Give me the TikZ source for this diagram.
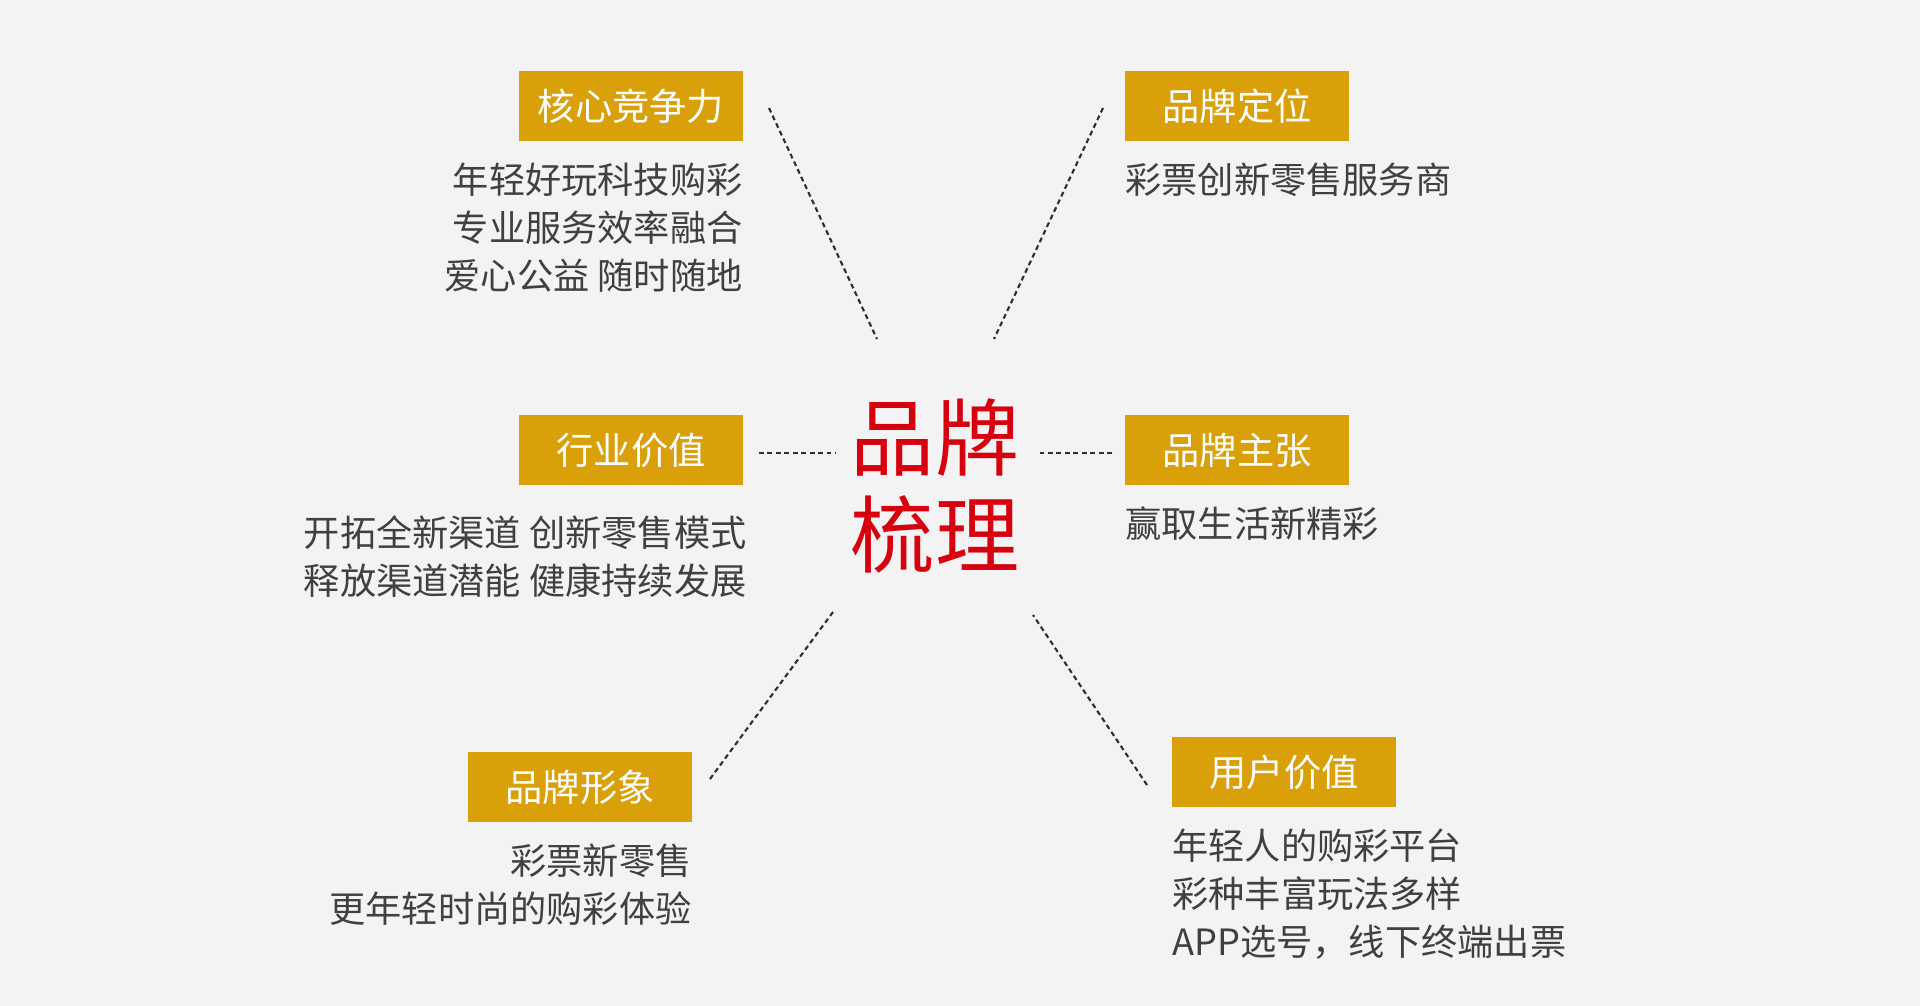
\documentclass[tikz,border=0pt]{standalone}
\usepackage{fontspec}
\setmainfont{Noto Sans CJK SC}
\usepackage{xcolor}
\usetikzlibrary{positioning}
\definecolor{bdbg}{HTML}{F3F3F3}
\definecolor{bdgold}{HTML}{D9A00A}
\definecolor{bdred}{HTML}{D7000F}
\definecolor{bdtext}{HTML}{404040}
\definecolor{bdline}{HTML}{2E2E2E}

\begin{document}
\begin{tikzpicture}[
  x=0.01cm, y=-0.01cm,
  tag/.style={rectangle, fill=bdgold, text=white, minimum width=2.23cm,
    minimum height=0.7cm, inner sep=0pt, font=\fontsize{10.6}{12}\selectfont},
  desc/.style={text=bdtext, inner sep=0pt, font=\fontsize{10.3}{13.7}\selectfont},
  link/.style={draw=bdline, line width=0.6pt, dash pattern=on 1.4pt off 1pt},
  node distance=0.2cm,
]
  \fill[bdbg] (0,0) rectangle (1920,1006);

  \node[text=bdred, align=center, font=\fontsize{23.9}{27.6}\selectfont] (title) at (935,486) {品牌\\梳理};

  \node[tag] (core) at (631,106) {核心竞争力};
  \node[desc, below=of core.south east, anchor=north east, align=right] (core-d)
    {年轻好玩科技购彩\\专业服务效率融合\\爱心公益 随时随地};
  \node[tag] (pos) at (1237,106) {品牌定位};
  \node[desc, below=of pos.south west, anchor=north west, align=left] (pos-d)
    {彩票创新零售服务商};
  \node[tag] (ind) at (631,450) {行业价值};
  \node[desc, below=0.29cm of ind.south east, anchor=north east, align=right, xshift=0.04cm] (ind-d)
    {开拓全新渠道 创新零售模式\\释放渠道潜能 健康持续发展};
  \node[tag] (claim) at (1237,450) {品牌主张};
  \node[desc, below=of claim.south west, anchor=north west, align=left] (claim-d)
    {赢取生活新精彩};
  \node[tag] (image) at (580,787) {品牌形象};
  \node[desc, below=of image.south east, anchor=north east, align=right] (image-d)
    {彩票新零售\\更年轻时尚的购彩体验};
  \node[tag] (user) at (1284,772) {用户价值};
  \node[desc, below=of user.south west, anchor=north west, align=left] (user-d)
    {年轻人的购彩平台\\彩种丰富玩法多样\\APP选号，线下终端出票};

  % dashed spokes
  \coordinate (core-a) at (769,108);  \coordinate (core-b) at (877,339);
  \coordinate (pos-a) at (1103,108);  \coordinate (pos-b) at (994,339);
  \coordinate (ind-a) at (759,453);   \coordinate (ind-b) at (835,453);
  \coordinate (claim-a) at (1112,453); \coordinate (claim-b) at (1037,453);
  \coordinate (image-a) at (710,779); \coordinate (image-b) at (833,612);
  \coordinate (user-a) at (1147,785); \coordinate (user-b) at (1033,615);
  \draw[link] (core-a) -- (core-b);
  \draw[link] (pos-a) -- (pos-b);
  \draw[link] (ind-a) -- (ind-b);
  \draw[link] (claim-a) -- (claim-b);
  \draw[link] (image-a) -- (image-b);
  \draw[link] (user-a) -- (user-b);
\end{tikzpicture}
\end{document}
